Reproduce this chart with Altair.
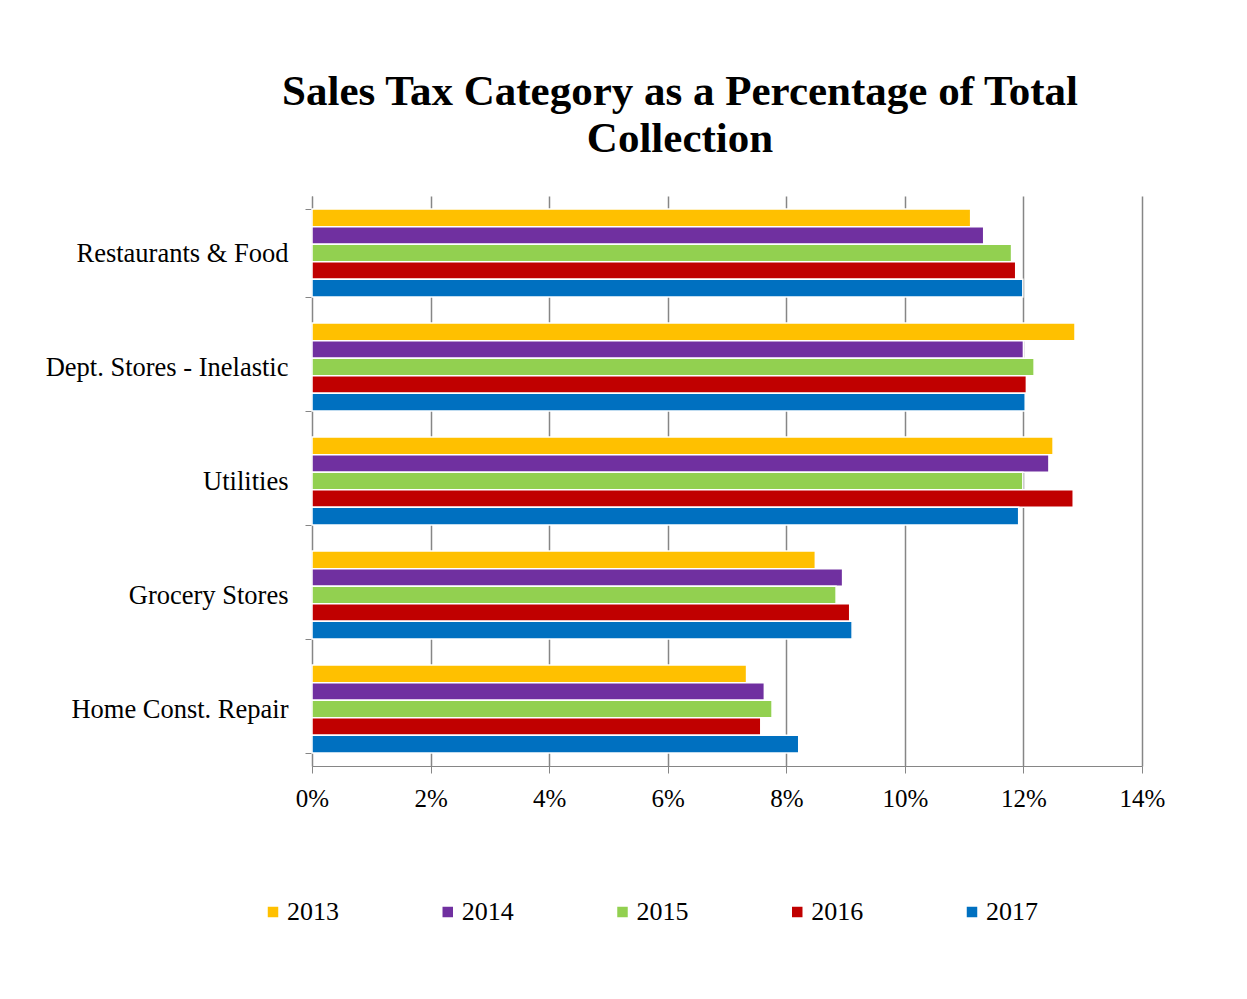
import altair as alt
import pandas as pd

categories = ["Restaurants & Food", "Dept. Stores - Inelastic", "Utilities", "Grocery Stores", "Home Const. Repair"]
years = ["2013", "2014", "2015", "2016", "2017"]
colors = ["#FFC000", "#7030A0", "#92D050", "#C00000", "#0070C0"]

v2013 = [11.11, 12.87, 12.50, 8.49, 7.33]
v2014 = [11.33, 12.00, 12.43, 8.95, 7.63]
v2015 = [11.80, 12.18, 11.99, 8.84, 7.76]
v2016 = [11.87, 12.05, 12.84, 9.07, 7.57]
v2017 = [11.99, 12.03, 11.92, 9.11, 8.21]

series = [v2013, v2014, v2015, v2016, v2017]
rows = []
for y, vals in zip(years, series):
    for c, v in zip(categories, vals):
        rows.append({"Category": c, "Year": y, "Value": v / 100})
df = pd.DataFrame(rows)

FONT = "Liberation Serif"

chart = alt.Chart(df).mark_bar(stroke="white", strokeWidth=1.5).encode(
    y=alt.Y("Category:N", sort=categories, title=None,
            scale=alt.Scale(paddingInner=0.23, paddingOuter=0.115),
            axis=alt.Axis(labelFont=FONT, labelFontSize=26.5, labelColor="black",
                          labelPadding=17, labelLimit=500, tickBand="extent", tickSize=7,
                          tickColor="#868686", domainColor="#868686", grid=False)),
    yOffset=alt.YOffset("Year:N", sort=years, scale=alt.Scale(paddingInner=0, paddingOuter=0)),
    x=alt.X("Value:Q", title=None,
            scale=alt.Scale(domain=[0, 0.14], nice=False),
            axis=alt.Axis(format=".0%", values=[0, 0.02, 0.04, 0.06, 0.08, 0.10, 0.12, 0.14],
                          labelFont=FONT, labelFontSize=25, labelColor="black",
                          labelFlush=False,
                          labelPadding=13, tickSize=7, tickColor="#868686",
                          domainColor="#868686", grid=True, gridColor="#868686",
                          gridWidth=1.5)),
    color=alt.Color("Year:N", sort=years,
                    scale=alt.Scale(domain=years, range=colors),
                    legend=alt.Legend(title=None, orient="none", direction="horizontal",
                                      legendX=-52, legendY=703,
                                      labelFont=FONT, labelFontSize=26, labelColor="black",
                                      symbolType="square", symbolSize=110, symbolStrokeWidth=0,
                                      columnPadding=95.75, labelOffset=1)),
).properties(
    width=830,
    height=570,
    title=alt.TitleParams(
        text=["Sales Tax Category as a Percentage of Total", "Collection"],
        font=FONT, fontSize=43, fontWeight="bold", color="black",
        anchor="middle", lineHeight=47, offset=22, dx=-47,
    ),
    padding={"left": 37, "top": 63, "right": 30, "bottom": 30},
).configure_view(stroke=None)

chart.save("out.html", embed_options={"renderer": "svg", "actions": False})
